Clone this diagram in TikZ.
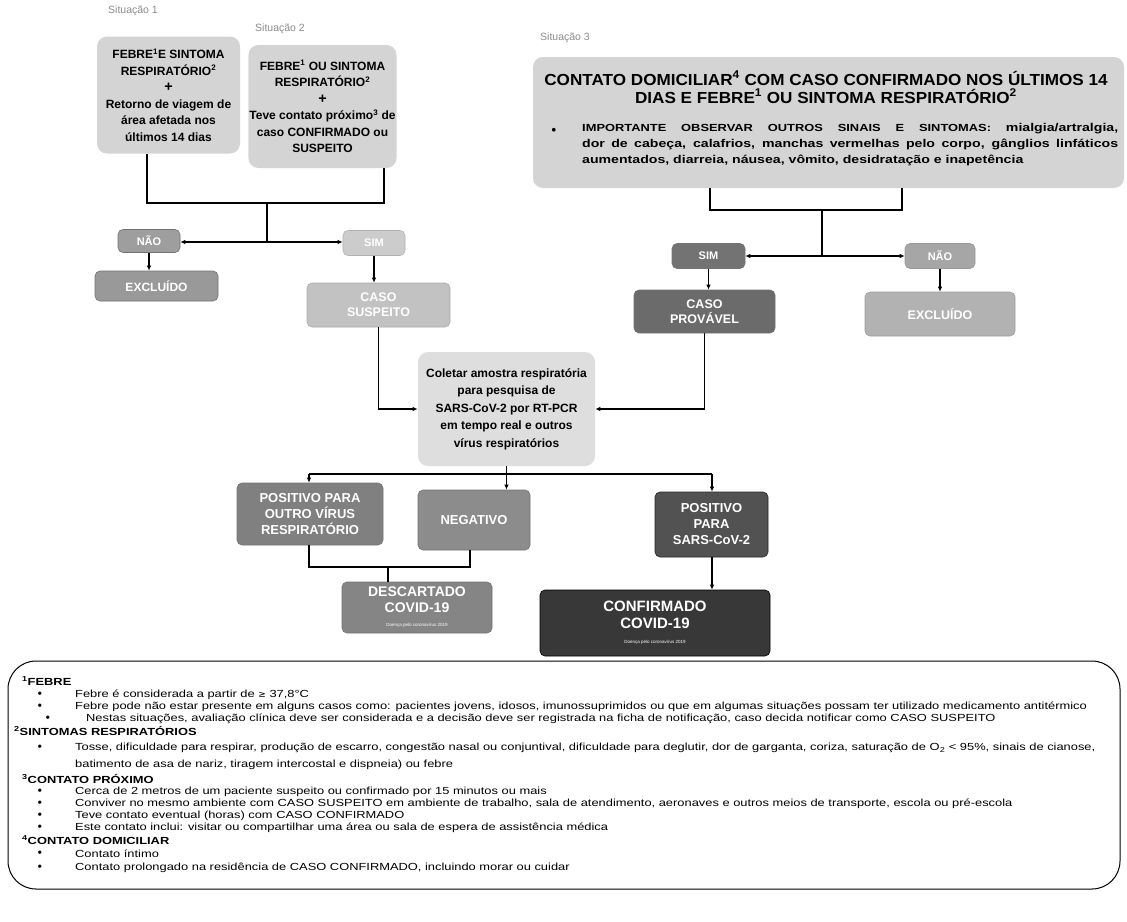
\documentclass[tikz,border=0pt]{standalone}
\usepackage{fontspec}
\setmainfont{Liberation Sans}
\newfontfamily\fnfont[FakeStretch=1.25]{Liberation Sans}
\newfontfamily\titlefont[FakeStretch=1.07]{Liberation Sans}
\newfontfamily\bulfont[FakeStretch=1.25]{Liberation Sans}
\usetikzlibrary{arrows.meta}
\begin{document}
\begin{tikzpicture}[x=1pt,y=-1pt,
  box/.style={rounded corners=5pt, align=center, inner sep=1pt, draw=black!55, line width=0.6pt},
  sitbox/.style={box, draw=none, fill=black!17, text=black, rounded corners=10pt,
     font=\fontsize{12}{16.5}\selectfont\bfseries},
  dbox/.style={box, text=white, font=\fontsize{12.5}{15}\selectfont\bfseries},
  sitlabel/.style={text=black!45, font=\fontsize{10.5}{12}\selectfont, anchor=west, inner sep=0pt},
  conn/.style={draw=black, line width=1.2pt},
  arr/.style={conn, -{Latex[length=5pt,width=4.5pt]}},
  fnline/.style={anchor=west, inner sep=0pt, font=\fnfont\fontsize{10.3}{11}\selectfont},
  fnhead/.style={anchor=west, inner sep=0pt, font=\fnfont\fontsize{10.3}{11}\selectfont\bfseries},
  fnbul/.style={anchor=center, inner sep=0pt, font=\fontsize{11.5}{12}\selectfont\bfseries}
]
\useasboundingbox (0,0) rectangle (1127,921);
\fill[white] (0,0) rectangle (1127,921);

% situation labels
\node[sitlabel] (l1) at (108,11) {Situação 1};
\node[sitlabel] (l2) at (255,29) {Situação 2};
\node[sitlabel] (l3) at (540,38) {Situação 3};

% situation boxes
\node[sitbox, minimum width=143, minimum height=117] (s1) at (168.5,95)
  {FEBRE\textsuperscript{1}E SINTOMA\\RESPIRATÓRIO\textsuperscript{2}\\{\Large +}\\Retorno de viagem de\\área afetada nos\\últimos 14 dias};
\node[sitbox, minimum width=147, minimum height=123] (s2) at (322.5,106.5)
  {FEBRE\textsuperscript{1} OU SINTOMA\\RESPIRATÓRIO\textsuperscript{2}\\{\Large +}\\Teve contato próximo\textsuperscript{3} de\\caso CONFIRMADO ou\\SUSPEITO};
\node[sitbox, minimum width=591, minimum height=131] (s3) at (828.5,122.5) {};
\node[align=center, inner sep=0pt, font=\titlefont\fontsize{16}{18}\selectfont\bfseries] (s3t) at (826,87)
  {CONTATO DOMICILIAR\textsuperscript{4} COM CASO CONFIRMADO NOS ÚLTIMOS 14\\DIAS E FEBRE\textsuperscript{1} OU SINTOMA RESPIRATÓRIO\textsuperscript{2}};
\node[inner sep=0pt, font=\fontsize{13}{13}\selectfont\bfseries] (s3b) at (554,131) {\textbullet};
\node[anchor=north west, inner sep=0pt, text width=536, align=justify, font=\bulfont\fontsize{10.3}{16}\selectfont\bfseries] (s3l) at (582,123)
  {IMPORTANTE OBSERVAR OUTROS SINAIS E SINTOMAS: {\fontsize{11.3}{16}\selectfont mialgia/artralgia,\linebreak
  dor de cabeça, calafrios, manchas vermelhas pelo corpo, gânglios linfáticos\linebreak
  aumentados, diarreia, náusea, vômito, desidratação e inapetência}};

% left branch
\node[dbox, fill=black!38, minimum width=62, minimum height=23, font=\fontsize{11}{13}\selectfont\bfseries] (nao1) at (149,241) {NÃO};
\node[dbox, fill=black!20, draw=black!30, minimum width=62, minimum height=25, font=\fontsize{11}{13}\selectfont\bfseries] (sim1) at (374,243) {SIM};
\node[dbox, fill=black!40, minimum width=123, minimum height=30, font=\fontsize{12}{14}\selectfont\bfseries] (exc1) at (156.5,286) {EXCLUÍDO};
\node[dbox, fill=black!24, draw=black!32, minimum width=143, minimum height=44] (sus) at (378.5,305) {CASO\\SUSPEITO};

% right branch
\node[dbox, fill=black!55, minimum width=73, minimum height=25, font=\fontsize{11}{13}\selectfont\bfseries] (sim2) at (708.5,256) {SIM};
\node[dbox, fill=black!35, draw=black!40, minimum width=70, minimum height=25, font=\fontsize{11}{13}\selectfont\bfseries] (nao2) at (940,256) {NÃO};
\node[dbox, fill=black!58, minimum width=141, minimum height=43] (prov) at (704.5,311.5) {CASO\\PROVÁVEL};
\node[dbox, fill=black!30, draw=black!38, minimum width=150, minimum height=44] (exc2) at (940,314) {EXCLUÍDO};

% collect
\node[box, draw=none, fill=black!13, rounded corners=10pt, minimum width=177, minimum height=114,
  font=\fontsize{12}{17.5}\selectfont\bfseries] (col) at (506.5,409)
  {Coletar amostra respiratória\\para pesquisa de\\SARS-CoV-2 por RT-PCR\\em tempo real e outros\\vírus respiratórios};

% results
\node[dbox, fill=black!50, minimum width=146, minimum height=62, font=\fontsize{13}{16}\selectfont\bfseries] (pos1) at (310,514) {POSITIVO PARA\\OUTRO VÍRUS\\RESPIRATÓRIO};
\node[dbox, fill=black!45, minimum width=112, minimum height=60, font=\fontsize{13}{16}\selectfont\bfseries] (neg) at (474,520) {NEGATIVO};
\node[dbox, fill=black!68, draw=black!85, minimum width=113, minimum height=65, font=\fontsize{13}{16}\selectfont\bfseries] (pos2) at (711.5,524.5) {POSITIVO\\PARA\\SARS-CoV-2};
\node[dbox, fill=black!48, minimum width=150, minimum height=51, font=\fontsize{14}{16}\selectfont\bfseries] (desc) at (417,607.5)
  {DESCARTADO\\COVID-19\\[-2pt]{\fontsize{4.5}{5}\selectfont\mdseries Doença pelo coronavírus 2019}};
\node[dbox, fill=black!78, draw=black, minimum width=230, minimum height=66, font=\fontsize{15}{17}\selectfont\bfseries] (conf) at (655,623)
  {CONFIRMADO\\COVID-19\\[-2pt]{\fontsize{4.5}{5}\selectfont\mdseries Doença pelo coronavírus 2019}};

% connectors left
\coordinate (b1) at (147,203);
\coordinate (b2) at (384,203);
\coordinate (j1) at (267,203);
\coordinate (k1) at (267,242);
\draw[conn] (s1.south -| b1) -- (b1) -- (b2) -- (s2.south -| b2);
\draw[conn] (j1) -- (k1);
\draw[arr] (k1) -- (k1 -| nao1.east);
\draw[arr] (k1) -- (k1 -| sim1.west);
\draw[arr] (nao1.south) -- (nao1.south |- exc1.north);
\draw[arr] (sim1.south) -- (sim1.south |- sus.north);
\draw[arr] (sus.south) |- (col.west);

% connectors right
\coordinate (b3) at (710,210);
\coordinate (b4) at (902,210);
\coordinate (j2) at (822,210);
\coordinate (k2) at (822,256);
\draw[conn] (s3.south -| b3) -- (b3) -- (b4) -- (s3.south -| b4);
\draw[conn] (j2) -- (k2);
\draw[arr] (k2) -- (sim2.east);
\draw[arr] (k2) -- (nao2.west);
\draw[arr] (sim2.south) -- (sim2.south |- prov.north);
\draw[arr] (nao2.south) -- (nao2.south |- exc2.north);
\draw[arr] (prov.south) |- (col.east);

% connectors lower
\coordinate (tl) at (309,474);
\coordinate (tr) at (712,474);
\draw[conn] (tl) -- (tr);
\draw[arr] (col.south) -- (col.south |- neg.north);
\draw[arr] (tl) -- (tl |- pos1.north);
\draw[arr] (tr) -- (tr |- pos2.north);
\coordinate (d1) at (309,567);
\coordinate (d2) at (470,567);
\coordinate (dm) at (388,567);
\draw[conn] (pos1.south -| d1) -- (d1) -- (d2) -- (neg.south -| d2);
\draw[conn] (dm) -- (dm |- desc.north);
\draw[arr] (pos2.south -| tr) -- (tr |- conf.north);

% footnotes
\node[draw=black, line width=1pt, rounded corners=28pt, minimum width=1112, minimum height=228, inner sep=0pt] (fnbox) at (564,775) {};
\node[fnhead] (h1) at (22,681) {\textsuperscript{1}FEBRE};
\node[fnbul] (u1) at (40,695) {\textbullet};
\node[fnline] (t1) at (75,695) {Febre é considerada a partir de {\fontspec{DejaVu Sans}\fontsize{9}{10}\selectfont ≥} 37,8°C};
\node[fnbul] (u2) at (40,707) {\textbullet};
\node[fnline] (t2) at (75,707) {Febre pode não estar presente em alguns casos como: pacientes jovens, idosos, imunossuprimidos ou que em algumas situações possam ter utilizado medicamento antitérmico};
\node[fnbul] (u3) at (48,719) {\textbullet};
\node[fnline] (t3) at (86,719) {Nestas situações, avaliação clínica deve ser considerada e a decisão deve ser registrada na ficha de notificação, caso decida notificar como CASO SUSPEITO};
\node[fnhead] (h2) at (14,731) {\textsuperscript{2}SINTOMAS RESPIRATÓRIOS};
\node[fnbul] (u4) at (40,748) {\textbullet};
\node[fnline] (t4) at (75,748) {Tosse, dificuldade para respirar, produção de escarro, congestão nasal ou conjuntival, dificuldade para deglutir, dor de garganta, coriza, saturação de O\textsubscript{2} < 95\%, sinais de cianose,};
\node[fnline] (t5) at (75,765) {batimento de asa de nariz, tiragem intercostal e dispneia) ou febre};
\node[fnhead] (h3) at (22,779) {\textsuperscript{3}CONTATO PRÓXIMO};
\node[fnbul] (u6) at (40,792) {\textbullet};
\node[fnline] (t6) at (75,792) {Cerca de 2 metros de um paciente suspeito ou confirmado por 15 minutos ou mais};
\node[fnbul] (u7) at (40,804) {\textbullet};
\node[fnline] (t7) at (75,804) {Conviver no mesmo ambiente com CASO SUSPEITO em ambiente de trabalho, sala de atendimento, aeronaves e outros meios de transporte, escola ou pré-escola};
\node[fnbul] (u8) at (40,816) {\textbullet};
\node[fnline] (t8) at (75,816) {Teve contato eventual (horas) com CASO CONFIRMADO};
\node[fnbul] (u9) at (40,828) {\textbullet};
\node[fnline] (t9) at (75,828) {Este contato inclui: visitar ou compartilhar uma área ou sala de espera de assistência médica};
\node[fnhead] (h4) at (22,840) {\textsuperscript{4}CONTATO DOMICILIAR};
\node[fnbul] (u10) at (40,854) {\textbullet};
\node[fnline] (t10) at (75,854) {Contato íntimo};
\node[fnbul] (u11) at (40,868) {\textbullet};
\node[fnline] (t11) at (75,868) {Contato prolongado na residência de CASO CONFIRMADO, incluindo morar ou cuidar};
\end{tikzpicture}
\end{document}
